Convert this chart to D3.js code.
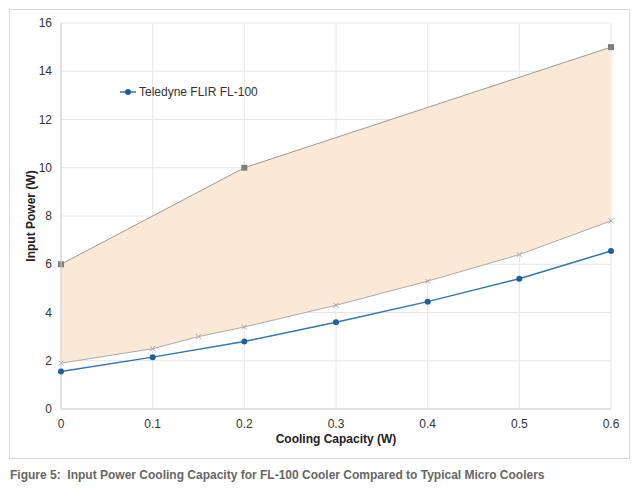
<!DOCTYPE html>
<html><head><meta charset="utf-8">
<script src="https://cdn.jsdelivr.net/npm/d3@7"></script>
<style>body{margin:0;background:#fff;font-family:"Liberation Sans",Arial,sans-serif}</style>
</head><body><svg id="c" width="640" height="492"></svg>
<script>
const flX=[0,0.1,0.2,0.3,0.4,0.5,0.6];
const flY=[1.55,2.15,2.8,3.6,4.45,5.4,6.55];
const lowX=[0,0.1,0.15,0.2,0.3,0.4,0.5,0.6];
const lowY=[1.9,2.5,3.0,3.4,4.3,5.3,6.4,7.8];
const upX=[0,0.2,0.6];
const upY=[6,10,15];
const xTicks=[0,0.1,0.2,0.3,0.4,0.5,0.6];
const yTicks=[0,2,4,6,8,10,12,14,16];

const svg=d3.select("#c");
svg.append("rect").attr("x",9.5).attr("y",9.5).attr("width",620).attr("height",449).attr("fill","#fff").attr("stroke","#d9d9d9");
const x=d3.scaleLinear().domain([0,0.6]).range([61,611]);
const y=d3.scaleLinear().domain([0,16]).range([409,23]);
const g=svg.append("g");
g.selectAll(".gx").data(xTicks).join("line").attr("x1",d=>x(d)).attr("x2",d=>x(d)).attr("y1",y(0)).attr("y2",y(16)).attr("stroke","#e6e6e6");
g.selectAll(".gy").data(yTicks).join("line").attr("x1",x(0)).attr("x2",x(0.6)).attr("y1",d=>y(d)).attr("y2",d=>y(d)).attr("stroke","#e6e6e6");
const up=upX.map((v,i)=>[v,upY[i]]), low=lowX.map((v,i)=>[v,lowY[i]]);
const poly=up.concat(low.slice().reverse());
const ln=d3.line().x(d=>x(d[0])).y(d=>y(d[1]));
g.append("path").attr("d",ln(poly)+"Z").attr("fill","#fbe9d7");
g.append("path").attr("d",ln(up)).attr("fill","none").attr("stroke","#a09890").attr("stroke-width",1);
g.append("path").attr("d",ln(low)).attr("fill","none").attr("stroke","#b0a8a0").attr("stroke-width",1);
g.selectAll(".sq").data(up).join("rect").attr("x",d=>x(d[0])-3).attr("y",d=>y(d[1])-3).attr("width",6).attr("height",6).attr("fill","#7f7f7f");
g.selectAll(".xm").data(low).join("path").attr("d",d=>{const a=x(d[0]),b=y(d[1]);return `M${a-2.5},${b-2.5}L${a+2.5},${b+2.5}M${a-2.5},${b+2.5}L${a+2.5},${b-2.5}`}).attr("stroke","#a6a6a6").attr("stroke-width",1);
g.append("line").attr("x1",x(0)).attr("x2",x(0.6)).attr("y1",y(0)).attr("y2",y(0)).attr("stroke","#d0d0d0");
g.append("line").attr("x1",x(0)).attr("x2",x(0)).attr("y1",y(0)).attr("y2",y(16)).attr("stroke","#d0d0d0");
const fl=flX.map((v,i)=>[v,flY[i]]);
g.append("path").attr("d",ln(fl)).attr("fill","none").attr("stroke","#2e75b6").attr("stroke-width",1.5);
g.selectAll(".dot").data(fl).join("circle").attr("cx",d=>x(d[0])).attr("cy",d=>y(d[1])).attr("r",3).attr("fill","#1f5f9e");
g.selectAll(".xt").data(xTicks).join("text").attr("x",d=>x(d)).attr("y",428).attr("text-anchor","middle").attr("font-size",12).attr("fill","#333").text(d=>d===0?"0":d3.format(".1f")(d));
g.selectAll(".yt").data(yTicks).join("text").attr("x",52).attr("y",d=>y(d)+4).attr("text-anchor","end").attr("font-size",12).attr("fill","#333").text(d=>d);
svg.append("text").attr("x",336).attr("y",443).attr("text-anchor","middle").attr("font-size",12).attr("font-weight","bold").attr("fill","#222").text("Cooling Capacity (W)");
svg.append("text").attr("transform","translate(35,216) rotate(-90)").attr("text-anchor","middle").attr("font-size",12).attr("font-weight","bold").attr("fill","#222").text("Input Power (W)");
svg.append("line").attr("x1",120).attr("x2",136).attr("y1",92).attr("y2",92).attr("stroke","#2e75b6").attr("stroke-width",1.5);
svg.append("circle").attr("cx",128).attr("cy",92).attr("r",3).attr("fill","#1f5f9e");
svg.append("text").attr("x",139).attr("y",96).attr("font-size",12).attr("fill","#333").text("Teledyne FLIR FL-100");
svg.append("text").attr("x",10).attr("y",479).attr("font-size",12).attr("font-weight","bold").attr("fill","#666").attr("xml:space","preserve").style("white-space","pre").text("Figure 5:  Input Power Cooling Capacity for FL-100 Cooler Compared to Typical Micro Coolers");
</script></body></html>
